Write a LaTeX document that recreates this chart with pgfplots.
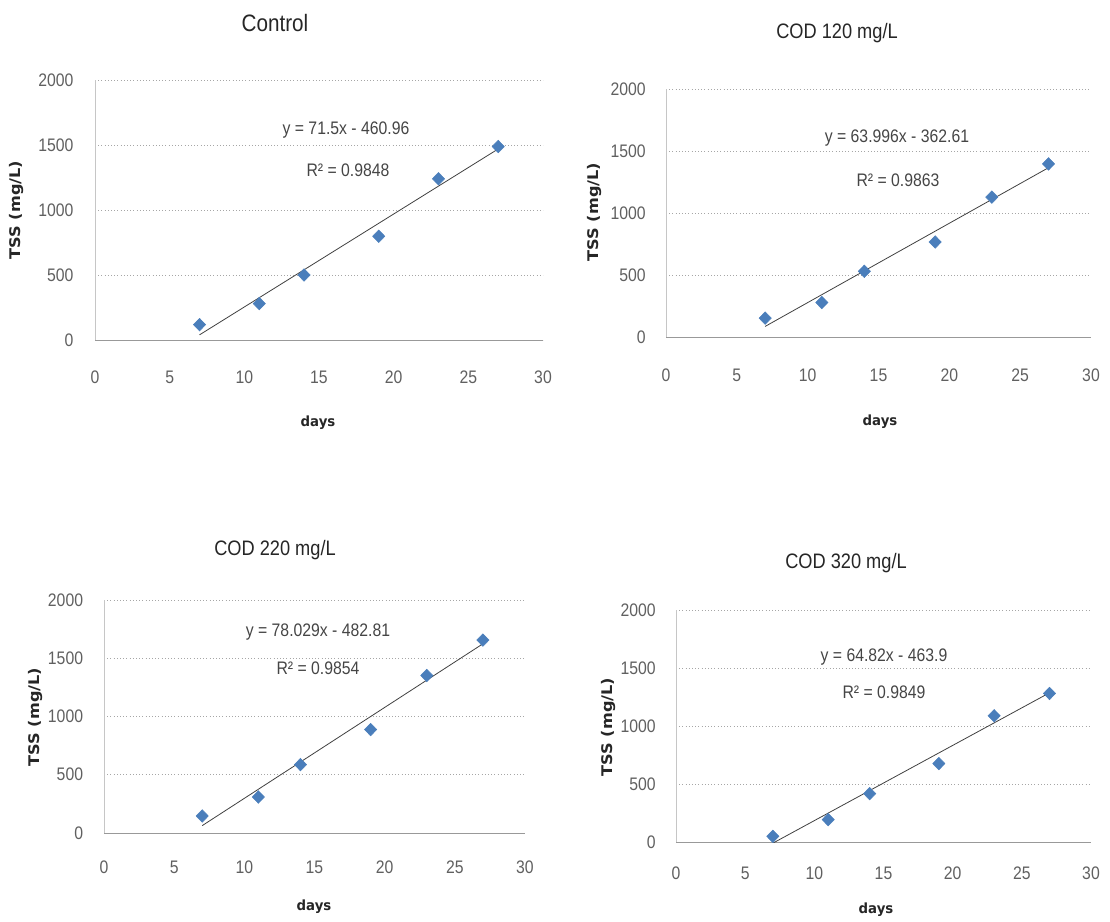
\documentclass[border=0pt]{standalone}
\usepackage{pgfplots}
\pgfplotsset{compat=1.18}
\usepackage{fontspec}
\setmainfont[FakeStretch=0.87]{Liberation Sans}
\newfontfamily\labfont[FakeStretch=1.1]{DejaVu Sans}
\newfontfamily\dayfont[FakeStretch=0.95]{DejaVu Sans}

\definecolor{markblue}{HTML}{4A7EBB}
\definecolor{ticktext}{HTML}{606060}
\definecolor{gridgray}{HTML}{A6A6A6}
\definecolor{eqtext}{HTML}{454545}

\pgfplotsset{
  tsspanel/.style={
    anchor=south west, scale only axis,
    xmin=0, xmax=30, ymin=0, ymax=2000,
    xtick={0,5,...,30}, ytick={0,500,...,2000},
    axis lines=left, axis line style={-},
    x axis line style={draw=gray!80},
    y axis line style={draw=gray!45},
    ymajorgrids, major grid style={draw=gridgray, dotted, line width=0.6pt},
    major tick length=0pt,
    tick label style={font=\fontsize{13.6}{15}\selectfont, text=ticktext},
    /pgf/number format/assume math mode=true,
    /pgf/number format/set thousands separator={},
    scaled ticks=false,
    yticklabel style={anchor=east, inner sep=0pt, xshift=-16pt},
  },
  pts/.style={only marks, mark=diamond*, mark size=4.7pt,
    mark options={fill=markblue, draw=markblue, xscale=1.3}},
  fit/.style={draw=black!75, line width=0.6pt},
}

\newcommand{\ttl}[2]{\fontsize{#1}{#2}\selectfont}

\begin{document}
\begin{tikzpicture}[x=0.75pt, y=0.75pt]
\useasboundingbox (0,0) rectangle (1110,921);
% lower-left corners of the four plot areas
\coordinate (pA) at (95,581);
\coordinate (pB) at (666,584);
\coordinate (pC) at (104,88);
\coordinate (pD) at (676,79);

% Control
\begin{axis}[tsspanel, at={(pA)}, width=336pt, height=195pt,
  xticklabel style={anchor=center, yshift=-27.75pt}]
  \addplot[fit] coordinates {(7,39.54) (27,1469.54)};
  \addplot[pts] coordinates {(7,118) (11,280) (14,500) (19,798) (23,1240) (27,1488)};
\end{axis}

% COD 120 mg/L
\begin{axis}[tsspanel, at={(pB)}, width=318.75pt, height=186pt,
  xticklabel style={anchor=center, yshift=-28.5pt},
  yticklabel style={xshift=1pt}]
  \addplot[fit] coordinates {(7,85.36) (27,1365.28)};
  \addplot[pts] coordinates {(7,152) (11,278) (14,530) (19,766) (23,1128) (27,1396)};
\end{axis}

% COD 220 mg/L
\begin{axis}[tsspanel, at={(pC)}, width=315.75pt, height=174.75pt,
  xticklabel style={anchor=center, yshift=-25.5pt},
  yticklabel style={xshift=0.5pt}]
  \addplot[fit] coordinates {(7,63.39) (27,1623.97)};
  \addplot[pts] coordinates {(7,146) (11,309) (14,587) (19,888) (23,1352) (27,1656)};
\end{axis}

% COD 320 mg/L
\begin{axis}[tsspanel, at={(pD)}, width=311.25pt, height=174pt,
  xticklabel style={anchor=center, yshift=-23.25pt},
  yticklabel style={xshift=1pt}]
  \addplot[fit] coordinates {(7,-10.16) (27,1286.24)};
  \addplot[pts] coordinates {(7,49) (11,193) (14,417) (19,676) (23,1088) (27,1281)};
\end{axis}

% titles
\node[text=black!85, font=\ttl{17.8}{20}] at (275,898) {Control};
\node[text=black!85, font=\ttl{15.7}{18}] at (837,888) {COD 120 mg/L};
\node[text=black!85, font=\ttl{15.7}{18}] at (275,371) {COD 220 mg/L};
\node[text=black!85, font=\ttl{15.7}{18}] at (846,358) {COD 320 mg/L};

% x axis titles
\node[text=black!85, font=\dayfont\bfseries\fontsize{10.5}{12}\selectfont] at (318,498) {days};
\node[text=black!85, font=\dayfont\bfseries\fontsize{10.5}{12}\selectfont] at (880,499) {days};
\node[text=black!85, font=\dayfont\bfseries\fontsize{10.5}{12}\selectfont] at (314,14) {days};
\node[text=black!85, font=\dayfont\bfseries\fontsize{10.5}{12}\selectfont] at (876,11) {days};

% y axis titles
\node[rotate=90, text=black!85, font=\labfont\bfseries\fontsize{11}{13}\selectfont] at (17,711) {TSS (mg/L)};
\node[rotate=90, text=black!85, font=\labfont\bfseries\fontsize{11}{13}\selectfont] at (595,709) {TSS (mg/L)};
\node[rotate=90, text=black!85, font=\labfont\bfseries\fontsize{11}{13}\selectfont] at (36,204) {TSS (mg/L)};
\node[rotate=90, text=black!85, font=\labfont\bfseries\fontsize{11}{13}\selectfont] at (609,194) {TSS (mg/L)};

% trendline equations
\begin{scope}[every node/.style={text=eqtext, font=\ttl{13.6}{15}}]
\node at (346,791) {y = 71.5x - 460.96};
\node at (348,751) {R² = 0.9848};
\node at (897,783) {y = 63.996x - 362.61};
\node at (898,741) {R² = 0.9863};
\node at (318,289) {y = 78.029x - 482.81};
\node at (318,253) {R² = 0.9854};
\node at (884,264) {y = 64.82x - 463.9};
\node at (884,229) {R² = 0.9849};
\end{scope}
\end{tikzpicture}
\end{document}
